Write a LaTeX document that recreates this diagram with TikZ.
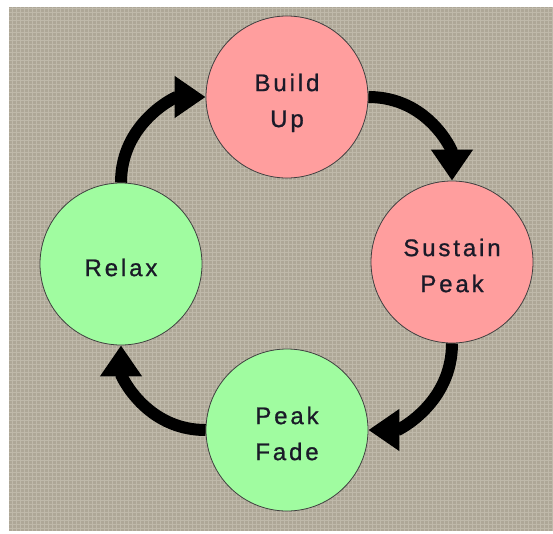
\documentclass[tikz,border=0pt]{standalone}
\usepackage{fontspec}
\setmainfont{Liberation Sans}
\newfontfamily\labelfont[LetterSpace=12,FakeBold=0.9]{Liberation Sans}
\usetikzlibrary{arrows.meta}
\definecolor{bgtan}{HTML}{AEA797}
\definecolor{gridlt}{HTML}{D0CBBE}
\definecolor{pinkfill}{HTML}{FF9E9E}
\definecolor{greenfill}{HTML}{A0FCA0}
\definecolor{rim}{HTML}{404040}
\definecolor{ink}{HTML}{1A1A28}
\newcommand\lblTopStrut{\rule{0pt}{30.2pt}}
\newcommand\lblBotStrut{\rule[-6pt]{0pt}{6pt}}
\begin{document}
\begin{tikzpicture}[x=1pt,y=-1pt,
  stage/.style={circle, draw=rim, line width=0.8pt, minimum size=162pt,
    inner sep=0pt, align=center, text=ink,
    font=\labelfont\fontsize{24}{36}\selectfont},
  hot/.style={stage, fill=pinkfill},
  cool/.style={stage, fill=greenfill},
  flow/.style={line width=12pt, draw=black,
    -{Triangle[length=31pt,width=40pt]}}]
\useasboundingbox (0,0) rectangle (553,533);
\fill[bgtan] (9,7) rectangle (553,531);
\draw[gridlt, opacity=0.5, line width=0.8pt, step=4pt] (9,7) grid (553,531);

\node[hot]  (build)   at (287,97)  {\lblTopStrut Build\\Up\lblBotStrut};
\node[hot]  (sustain) at (452,262) {\lblTopStrut Sustain\\Peak\lblBotStrut};
\node[cool] (fade)    at (287,430) {\lblTopStrut Peak\\Fade\lblBotStrut};
\node[cool] (relax)   at (121,264) {\lblTopStrut Relax\lblBotStrut};

\draw[flow] (relax.north) .. controls +(0,-60) and +(-30,0) .. (build.west);
\draw[flow] (build.east) .. controls +(60,0) and +(0,-30) .. (sustain.north);
\draw[flow] (sustain.south) .. controls +(0,60) and +(30,0) .. (fade.east);
\draw[flow] (fade.west) .. controls +(-60,0) and +(0,30) .. (relax.south);
\end{tikzpicture}
\end{document}
